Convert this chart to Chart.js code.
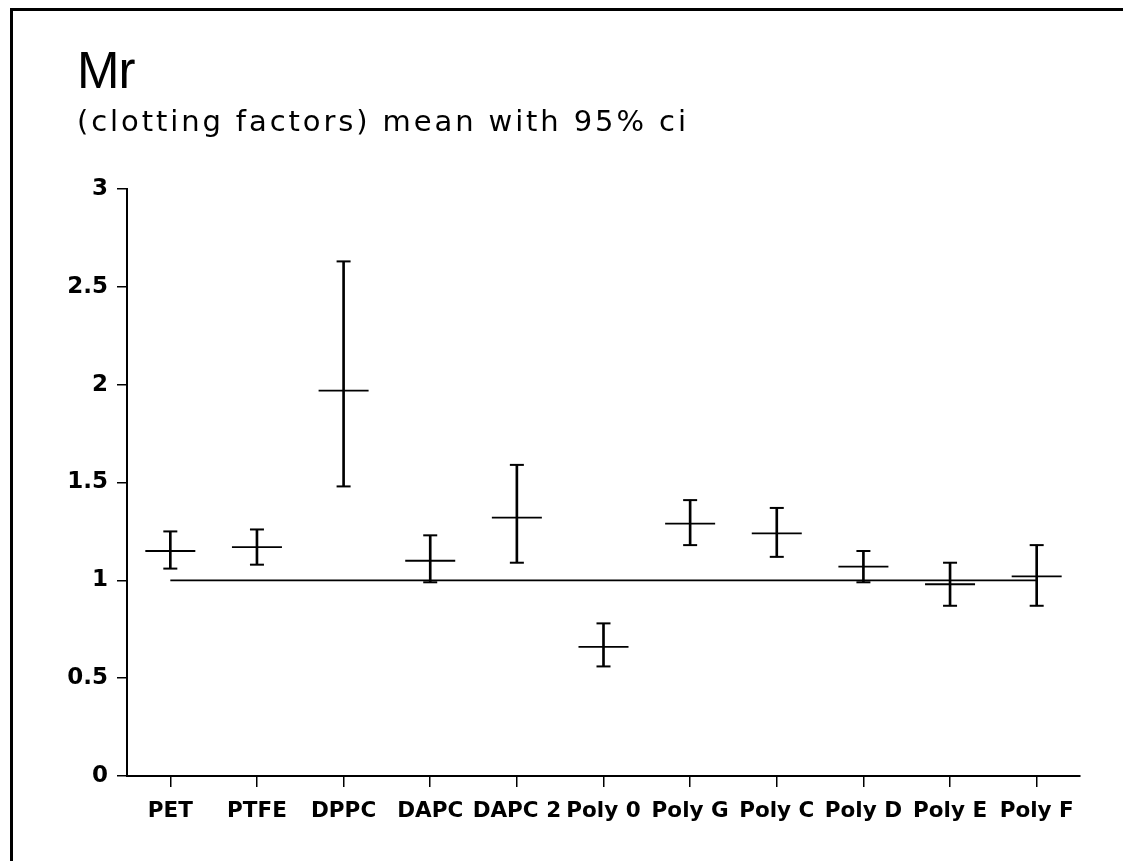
<!DOCTYPE html>
<html>
<head>
<meta charset="utf-8">
<script src="https://cdn.jsdelivr.net/npm/chart.js@4.4.0/dist/chart.umd.min.js"></script>
<style>
  html, body { margin: 0; padding: 0; background: #fff; }
  #frame { position: absolute; left: 10px; top: 8px; right: 0; bottom: 0; border-top: 3px solid #000; border-left: 3px solid #000; }
  #wrap { position: absolute; left: 0; top: 0; width: 1123px; height: 861px; }
</style>
</head>
<body>
<div id="frame"></div>
<div id="wrap"><canvas id="chart"></canvas></div>
<script>
/* globals Chart */

var categories = ['PET', 'PTFE', 'DPPC', 'DAPC', 'DAPC 2', 'Poly 0', 'Poly G', 'Poly C', 'Poly D', 'Poly E', 'Poly F']

// mean with 95% ci
var means = [1.15, 1.17, 1.97, 1.10, 1.32, 0.66, 1.29, 1.24, 1.07, 0.98, 1.02]
var upper = [1.25, 1.26, 2.63, 1.23, 1.59, 0.78, 1.41, 1.37, 1.15, 1.09, 1.18]
var lower = [1.06, 1.08, 1.48, 0.99, 1.09, 0.56, 1.18, 1.12, 0.99, 0.87, 0.87]

var referenceValue = 1
var yTicks = [0, 0.5, 1, 1.5, 2, 2.5, 3]

var titleText = 'Mr'
var subtitleText = '(clotting factors) mean with 95% ci'

var titleFont = '"Liberation Sans", Arial, Helvetica, sans-serif'
var textFont = '"DejaVu Sans", Verdana, sans-serif'

// the old plotter font is spaced out, so widen text per box
var letterSpacingPlugin = {
  id: 'letterSpacing',
  beforeDraw: function (chart) {
    chart.boxes.forEach(function (box) {
      if (box._spacingWrapped) return
      var spacing = null
      if (box.options && box.options.text === titleText) spacing = '-1px'
      else if (box.options && box.options.text === subtitleText) spacing = '2.9px'
      else if (box.id === 'y') {
        // let the y labels run left into the padding
        box._computeLabelArea = function () { return undefined }
      }
      box._spacingWrapped = true
      if (!spacing) return
      var original = box.draw
      box.draw = function () {
        var ctx = chart.ctx
        ctx.save()
        ctx.letterSpacing = spacing
        original.apply(box, arguments)
        ctx.restore()
      }
    })
  }
}

var chart = new Chart(document.getElementById('chart'), {
  type: 'bar',
  data: {
    labels: categories,
    datasets: [
      {
        type: 'line',
        data: categories.map(function () { return referenceValue }),
        borderColor: '#000',
        borderWidth: 1.8,
        pointRadius: 0
      },
      {
        type: 'bar',
        data: lower.map(function (lo, i) { return [lo, upper[i]] }),
        backgroundColor: '#000',
        borderWidth: 0,
        barThickness: 2
      },
      {
        type: 'line',
        data: upper,
        showLine: false,
        pointStyle: 'line',
        pointRadius: 7,
        pointBorderWidth: 2,
        pointBorderColor: '#000'
      },
      {
        type: 'line',
        data: lower,
        showLine: false,
        pointStyle: 'line',
        pointRadius: 7,
        pointBorderWidth: 2,
        pointBorderColor: '#000'
      },
      {
        type: 'line',
        data: means,
        showLine: false,
        pointStyle: 'line',
        pointRadius: 25,
        pointBorderWidth: 1.8,
        pointBorderColor: '#000'
      }
    ]
  },
  options: {
    responsive: true,
    maintainAspectRatio: false,
    animation: false,
    events: [],
    layout: {
      padding: { left: 77, right: 43, top: 0, bottom: 0 }
    },
    plugins: {
      legend: { display: false },
      tooltip: { enabled: false },
      title: {
        display: true,
        text: titleText,
        align: 'start',
        color: '#000',
        font: { family: titleFont, size: 51, weight: 'normal', lineHeight: 1.2 },
        padding: { top: 43, bottom: 0 }
      },
      subtitle: {
        display: true,
        text: subtitleText,
        align: 'start',
        color: '#000',
        font: { family: textFont, size: 29, weight: 'normal', lineHeight: 1.2 },
        padding: { top: 2, bottom: 48 }
      }
    },
    scales: {
      x: {
        offset: true,
        grid: {
          display: true,
          drawOnChartArea: false,
          drawTicks: true,
          tickLength: 11,
          color: '#000',
          lineWidth: 1.5,
          offset: false
        },
        border: { display: true, color: '#000', width: 2 },
        ticks: {
          color: '#000',
          font: { family: textFont, size: 21.5, weight: 'bold' },
          padding: 12,
          maxRotation: 0,
          autoSkip: false
        },
        afterFit: function (scale) { scale.height = 85 }
      },
      y: {
        min: 0,
        max: 3,
        afterBuildTicks: function (scale) {
          scale.ticks = yTicks.map(function (v) { return { value: v } })
        },
        grid: {
          drawOnChartArea: false,
          drawTicks: true,
          tickLength: 10,
          color: '#000',
          lineWidth: 1.5
        },
        border: { display: true, color: '#000', width: 2 },
        ticks: {
          color: '#000',
          font: { family: textFont, size: 23, weight: 'bold' },
          padding: 9,
          callback: function (value) { return String(value) }
        },
        afterFit: function (scale) { scale.width = 50 }
      }
    }
  },
  plugins: [letterSpacingPlugin]
})
</script>
</body>
</html>
